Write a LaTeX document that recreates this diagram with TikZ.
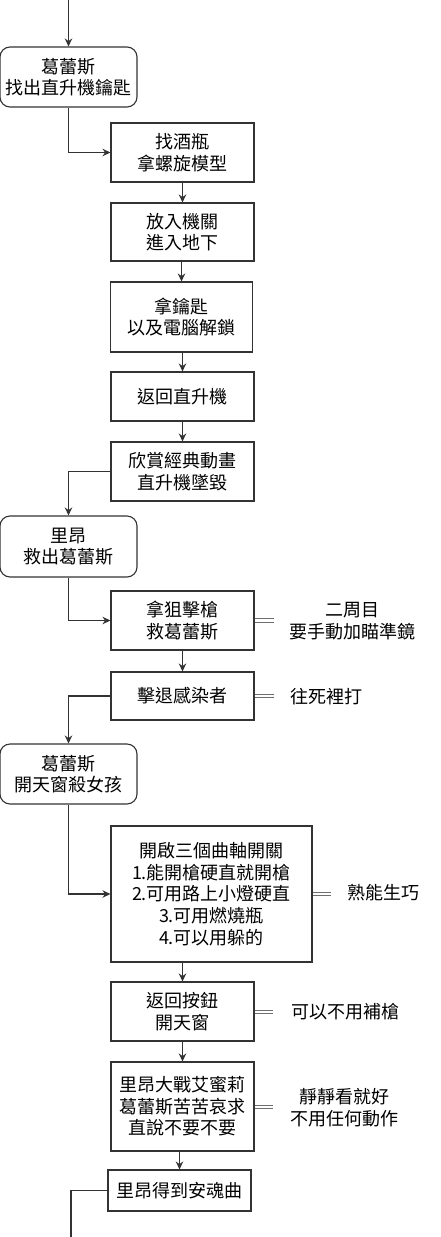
\documentclass[tikz,border=0pt]{standalone}
\usepackage{fontspec}
\setmainfont{Noto Sans CJK TC}
\usetikzlibrary{arrows.meta}
\definecolor{ln}{HTML}{333333}
\definecolor{eq}{HTML}{6E6E6E}
\tikzset{
  base/.style={draw=ln, line width=1.1pt, inner sep=0pt, align=center,
    font=\fontsize{18}{21.6}\selectfont, text=black},
  stepbox/.style={base, rectangle},
  roundbox/.style={base, rectangle, rounded corners=10pt},
  note/.style={inner sep=0pt, align=center, font=\fontsize{18}{21.6}\selectfont, text=black},
  arr/.style={draw=ln, line width=1.1pt, -{Stealth[length=8pt,width=7.5pt]}},
  plain/.style={draw=ln, line width=1.1pt},
  eqlink/.style={draw=eq, line width=1.1pt, double=white, double distance=2.6pt},
}
\begin{document}
\begin{tikzpicture}[x=1pt,y=-1pt]
\useasboundingbox (0,0) rectangle (441,1237);
% main nodes
\node[roundbox, minimum width=137pt, minimum height=60pt] (r1) at (68.5,77) {葛蕾斯\\找出直升機鑰匙};
\node[stepbox, minimum width=143pt, minimum height=59pt] (b2) at (182.5,152.5) {找酒瓶\\拿螺旋模型};
\node[stepbox, minimum width=143pt, minimum height=58pt] (b3) at (182.5,232) {放入機關\\進入地下};
\node[stepbox, minimum width=142pt, minimum height=70pt] (b4) at (181.5,317) {拿鑰匙\\以及電腦解鎖};
\node[stepbox, minimum width=143pt, minimum height=49pt] (b5) at (182.5,396.5) {返回直升機};
\node[stepbox, minimum width=143pt, minimum height=59pt] (b6) at (182.5,471.5) {欣賞經典動畫\\直升機墜毀};
\node[roundbox, minimum width=137pt, minimum height=61pt] (r2) at (68.5,546.5) {里昂\\救出葛蕾斯};
\node[stepbox, minimum width=143pt, minimum height=59pt] (b7) at (182.5,620.5) {拿狙擊槍\\救葛蕾斯};
\node[stepbox, minimum width=143pt, minimum height=48pt] (b8) at (182.5,696) {擊退感染者};
\node[roundbox, minimum width=137pt, minimum height=60pt] (r3) at (68.5,774) {葛蕾斯\\開天窗殺女孩};
\node[stepbox, minimum width=201pt, minimum height=136pt] (b9) at (211.5,894) {開啟三個曲軸開關\\1.能開槍硬直就開槍\\2.可用路上小燈硬直\\3.可用燃燒瓶\\4.可以用躲的};
\node[stepbox, minimum width=143pt, minimum height=59pt] (b10) at (182.5,1011.5) {返回按鈕\\開天窗};
\node[stepbox, minimum width=143pt, minimum height=89pt] (b11) at (182.5,1106.5) {里昂大戰艾蜜莉\\葛蕾斯苦苦哀求\\直說不要不要};
\node[stepbox, minimum width=143pt, minimum height=41pt] (b12) at (179.5,1190.5) {里昂得到安魂曲};
% notes
\node[note] (n7) at (352,621) {二周目\\要手動加瞄準鏡};
\node[note] (n8) at (326,697) {往死裡打};
\node[note] (n9) at (383.5,893) {熟能生巧};
\node[note] (n10) at (345,1012) {可以不用補槍};
\node[note] (n11) at (344,1107.5) {靜靜看就好\\不用任何動作};
% free ends
\coordinate (top) at (68.5,0);
\coordinate (bot) at (71,1237);
\coordinate (e7) at (274,620.5);
\coordinate (e8) at (274,696);
\coordinate (e9) at (331,894);
\coordinate (e10) at (273,1012);
\coordinate (e11) at (273,1107);
% connectors
\draw[arr] (top) -- (r1.north);
\draw[arr] (r1.south) |- (b2.west);
\draw[arr] (b2.south) -- (b3.north);
\draw[arr] (b3.south -| b4.north) -- (b4.north);
\draw[arr] (b4.south -| b5.north) -- (b5.north);
\draw[arr] (b5.south) -- (b6.north);
\draw[arr] (b6.west) -| (r2.north);
\draw[arr] (r2.south) |- (b7.west);
\draw[arr] (b7.south) -- (b8.north);
\draw[arr] (b8.west) -| (r3.north);
\draw[arr] (r3.south) |- (b9.west);
\draw[arr] (b9.south -| b10.north) -- (b10.north);
\draw[arr] (b10.south) -- (b11.north);
\draw[arr] (b11.south -| b12.north) -- (b12.north);
\draw[plain] (b12.west) -| (bot);
% equals links
\draw[eqlink] (b7.east) -- (e7);
\draw[eqlink] (b8.east) -- (e8);
\draw[eqlink] (b9.east) -- (e9);
\draw[eqlink] (b10.east |- e10) -- (e10);
\draw[eqlink] (b11.east |- e11) -- (e11);
\end{tikzpicture}
\end{document}
